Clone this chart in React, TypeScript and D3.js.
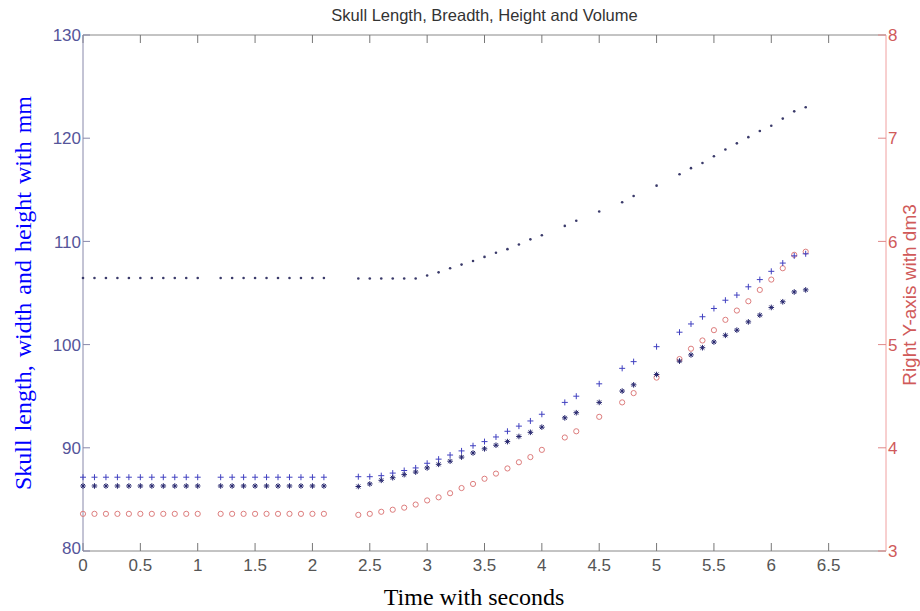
import React from 'react';
import { scaleLinear } from 'd3';

// time in seconds, one entry per measurement
const timePoints = [
  0, 0.1, 0.2, 0.3, 0.4, 0.5, 0.6, 0.7, 0.8, 0.9, 1.0,
  1.2, 1.3, 1.4, 1.5, 1.6, 1.7, 1.8, 1.9, 2.0, 2.1,
  2.4, 2.5, 2.6, 2.7, 2.8, 2.9, 3.0, 3.1, 3.2, 3.3, 3.4, 3.5, 3.6, 3.7, 3.8, 3.9, 4.0,
  4.2, 4.3, 4.5, 4.7, 4.8, 5.0,
  5.2, 5.3, 5.4, 5.5, 5.6, 5.7, 5.8, 5.9, 6.0, 6.1, 6.2, 6.3,
];

// skull length (mm), '.' markers
const skullLength = [
  106.45, 106.45, 106.45, 106.45, 106.45, 106.45, 106.45, 106.45, 106.45, 106.45, 106.45,
  106.45, 106.45, 106.45, 106.45, 106.45, 106.45, 106.45, 106.45, 106.45, 106.45,
  106.4, 106.4, 106.4, 106.4, 106.4, 106.4, 106.7, 107.0, 107.4, 107.75, 108.1, 108.5, 108.9, 109.25, 109.7, 110.2, 110.6,
  111.5, 112.0, 112.9, 113.8, 114.4, 115.4,
  116.5, 117.1, 117.6, 118.25, 118.9, 119.5, 120.1, 120.7, 121.2, 121.9, 122.6, 123.0,
];

// skull width (mm), '+' markers
const skullWidth = [
  87.15, 87.15, 87.15, 87.15, 87.15, 87.15, 87.15, 87.15, 87.15, 87.15, 87.15,
  87.15, 87.15, 87.15, 87.15, 87.15, 87.15, 87.15, 87.15, 87.15, 87.15,
  87.2, 87.2, 87.3, 87.55, 87.8, 88.05, 88.5, 88.9, 89.3, 89.7, 90.2, 90.6, 91.05, 91.6, 92.1, 92.6, 93.25,
  94.4, 95.0, 96.2, 97.7, 98.35, 99.8,
  101.2, 102.0, 102.7, 103.5, 104.3, 104.8, 105.6, 106.3, 107.1, 107.9, 108.6, 108.8,
];

// skull height (mm), '*' markers
const skullHeight = [
  86.3, 86.3, 86.3, 86.3, 86.3, 86.3, 86.3, 86.3, 86.3, 86.3, 86.3,
  86.3, 86.3, 86.3, 86.3, 86.3, 86.3, 86.3, 86.3, 86.3, 86.3,
  86.25, 86.5, 86.85, 87.1, 87.4, 87.65, 88.05, 88.4, 88.7, 89.1, 89.5, 89.9, 90.25, 90.6, 91.1, 91.5, 92.0,
  92.9, 93.4, 94.4, 95.5, 96.1, 97.1,
  98.4, 99.0, 99.7, 100.25, 100.9, 101.4, 102.2, 102.85, 103.6, 104.15, 105.1, 105.3,
];

// skull volume (dm3), right axis, 'o' markers
const skullVolume = [
  3.36, 3.36, 3.36, 3.36, 3.36, 3.36, 3.36, 3.36, 3.36, 3.36, 3.36,
  3.36, 3.36, 3.36, 3.36, 3.36, 3.36, 3.36, 3.36, 3.36, 3.36,
  3.35, 3.36, 3.38, 3.40, 3.42, 3.45, 3.49, 3.52, 3.56, 3.61, 3.65, 3.70, 3.75, 3.80, 3.86, 3.91, 3.98,
  4.10, 4.16, 4.30, 4.44, 4.53, 4.68,
  4.86, 4.96, 5.04, 5.14, 5.24, 5.33, 5.42, 5.53, 5.63, 5.74, 5.87, 5.90,
];

const xTicks = [0, 0.5, 1, 1.5, 2, 2.5, 3, 3.5, 4, 4.5, 5, 5.5, 6, 6.5];
const xTickLabels = ['0', '0.5', '1', '1.5', '2', '2.5', '3', '3.5', '4', '4.5', '5', '5.5', '6', '6.5'];
const leftTicks = [80, 90, 100, 110, 120, 130];
const rightTicks = [3, 4, 5, 6, 7, 8];

const width = 920;
const height = 611;
const margin = { top: 35, right: 34, bottom: 60, left: 83 };
const innerWidth = width - margin.left - margin.right;
const innerHeight = height - margin.top - margin.bottom;

const sans = '"Liberation Sans", Arial, sans-serif';
const serif = '"Liberation Serif", "Times New Roman", serif';

export default function App() {
  const xScale = scaleLinear().domain([0, 7]).range([0, innerWidth]);
  const yLeft = scaleLinear().domain([80, 130]).range([innerHeight, 0]);
  const yRight = scaleLinear().domain([3, 8]).range([innerHeight, 0]);

  const plus = (s: number) => `M${-s},0H${s}M0,${-s}V${s}`;
  const star = (s: number) => {
    const d = s * 0.7;
    return `M${-s},0H${s}M0,${-s}V${s}M${-d},${-d}L${d},${d}M${-d},${d}L${d},${-d}`;
  };

  return (
    <svg width={width} height={height}
      style={{ position: 'absolute', left: 0, top: 0, background: '#fff' }}>
      <text x={margin.left + innerWidth / 2} y={21} textAnchor="middle"
        fontFamily={sans} fontSize={16.5} fill="#333">
        Skull Length, Breadth, Height and Volume
      </text>

      <g transform={`translate(${margin.left},${margin.top})`}>
        {/* box: top and bottom */}
        <line x1={0} x2={innerWidth} y1={0} y2={0} stroke="#888" />
        <line x1={0} x2={innerWidth} y1={innerHeight} y2={innerHeight} stroke="#888" />
        {xTicks.map((t, i) => (
          <g key={t} transform={`translate(${xScale(t)},0)`}>
            <line y1={innerHeight} y2={innerHeight - 8} stroke="#777" />
            <line y1={0} y2={8} stroke="#777" />
            <text y={innerHeight + 20} textAnchor="middle" fontFamily={sans}
              fontSize={17} fill="#555">{xTickLabels[i]}</text>
          </g>
        ))}

        {/* left axis */}
        <line x1={0} x2={0} y1={0} y2={innerHeight} stroke="#8888aa" />
        {leftTicks.map(v => (
          <g key={v} transform={`translate(0,${yLeft(v)})`}>
            <line x1={0} x2={7} stroke="#8888aa" />
            <text x={-2} dy={v === 80 ? '0.2em' : '0.36em'} textAnchor="end" fontFamily={sans}
              fontSize={17} fill="#55559a">{v}</text>
          </g>
        ))}

        {/* right axis */}
        <line x1={innerWidth} x2={innerWidth} y1={0} y2={innerHeight} stroke="#f0a0a0" />
        {rightTicks.map(v => (
          <g key={v} transform={`translate(${innerWidth},${yRight(v)})`}>
            <line x1={0} x2={-8} stroke="#e08888" />
            <text x={2} dy="0.36em" fontFamily={sans} fontSize={17} fill="#d05a5a">{v}</text>
          </g>
        ))}

        {/* volume circles */}
        {timePoints.map((t, i) => (
          <circle key={'v' + i} cx={xScale(t)} cy={yRight(skullVolume[i])} r={2.6}
            fill="none" stroke="#dd7d7d" strokeWidth={1} />
        ))}
        {/* width '+' */}
        {timePoints.map((t, i) => (
          <path key={'w' + i} transform={`translate(${xScale(t)},${yLeft(skullWidth[i])})`}
            d={plus(3)} stroke="#4040c0" strokeWidth={1} />
        ))}
        {/* height '*' */}
        {timePoints.map((t, i) => (
          <path key={'h' + i} transform={`translate(${xScale(t)},${yLeft(skullHeight[i])})`}
            d={star(2.8)} stroke="#26266e" strokeWidth={1} />
        ))}
        {/* length '.' */}
        {timePoints.map((t, i) => (
          <circle key={'l' + i} cx={xScale(t)} cy={yLeft(skullLength[i])} r={1.3}
            fill="#3a3a6a" />
        ))}
      </g>

      <text transform={`translate(31,293) rotate(-90)`}
        textAnchor="middle" fontFamily={serif} fontSize={24} fill="#0000ff" wordSpacing={2}>
        Skull length, width and height with mm
      </text>
      <text transform={`translate(916,${margin.top + innerHeight / 2 + 2}) rotate(-90)`}
        textAnchor="middle" fontFamily={sans} fontSize={19} fill="#d05a5a">
        Right Y-axis with dm3
      </text>
      <text x={474} y={605} textAnchor="middle" fontFamily={serif} fontSize={24} fill="#000">
        Time with seconds
      </text>
    </svg>
  );
}
